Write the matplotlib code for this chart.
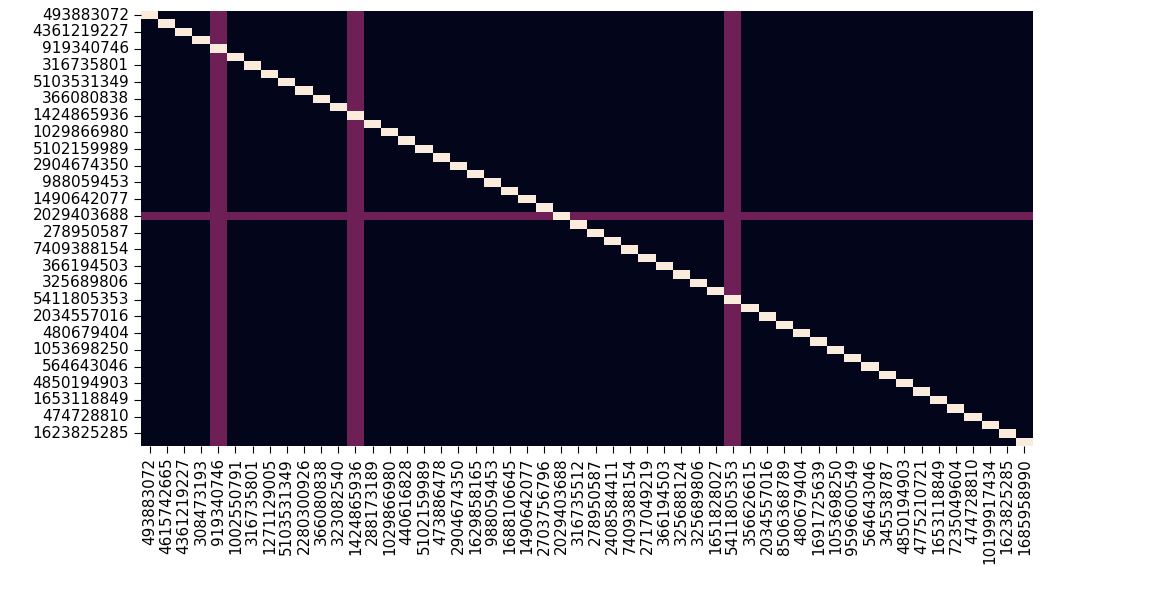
import numpy as np
import matplotlib
matplotlib.use("Agg")
import matplotlib.pyplot as plt
import seaborn as sns

labels = [
    "493883072", "4615742665", "4361219227", "308473193", "919340746",
    "1002550791", "316735801", "1271129005", "5103531349", "2280300926",
    "366080838", "323082540", "1424865936", "288173189", "1029866980",
    "440616828", "5102159989", "473886478", "2904674350", "1629858165",
    "988059453", "1688106645", "1490642077", "2703756796", "2029403688",
    "316735512", "278950587", "2408584411", "7409388154", "2717049219",
    "366194503", "325688124", "325689806", "1651828027", "5411805353",
    "356626615", "2034557016", "8506368789", "480679404", "1691725639",
    "1053698250", "9596600549", "564643046", "345538787", "4850194903",
    "4775210721", "1653118849", "7235049604", "474728810", "10199917434",
    "1623825285", "1685958990",
]

# columns / row that light up partially
hot_cols = [4, 12, 34]
hot_rows = [24]
partial_value = 0.28

n = len(labels)
matrix = np.zeros((n, n))
for c in hot_cols:
    matrix[:, c] = partial_value
for r in hot_rows:
    matrix[r, :] = partial_value
np.fill_diagonal(matrix, 1.0)

fig = plt.figure(figsize=(11.57, 5.91), dpi=100)
ax = fig.add_axes([141 / 1157, 1 - 446 / 591, (1033 - 141) / 1157, (446 - 11) / 591])
sns.heatmap(matrix, ax=ax, cmap="rocket", vmin=0, vmax=1, cbar=False,
            xticklabels=labels, yticklabels=labels[::2])
ax.set_yticks(np.arange(0, n, 2) + 0.5)
ax.set_yticklabels(labels[::2], rotation=0)
ax.set_xticks(np.arange(n) + 0.5)
ax.set_xticklabels(labels, rotation=90)
ax.tick_params(axis='both', labelsize=11, length=5)

fig.savefig("out.png", dpi=100)
